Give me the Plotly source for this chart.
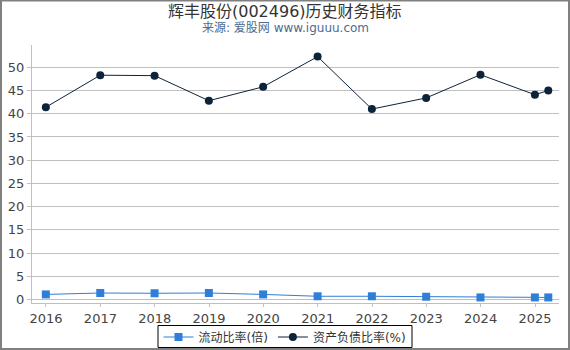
import plotly.graph_objects as go

dates = ["2015-12-31", "2016-12-31", "2017-12-31", "2018-12-31", "2019-12-31",
         "2020-12-31", "2021-12-31", "2022-12-31", "2023-12-31", "2024-12-31", "2025-03-31"]
current_ratio = [1.1, 1.4, 1.35, 1.4, 1.1, 0.7, 0.7, 0.6, 0.45, 0.45, 0.45]
debt_ratio = [41.4, 48.3, 48.2, 42.8, 45.8, 52.3, 41.0, 43.4, 48.4, 44.1, 45.0]
year_ticks = ["2016-01-01", "2017-01-01", "2018-01-01", "2019-01-01", "2020-01-01",
              "2021-01-01", "2022-01-01", "2023-01-01", "2024-01-01", "2025-01-01"]
year_labels = ["2016", "2017", "2018", "2019", "2020", "2021", "2022", "2023", "2024", "2025"]

W, H = 570, 350
L, R, T, B = 32, 11, 45, 47
pw, ph = W - L - R, H - T - B
cx = (W / 2 - L) / pw  # page centre in paper coords

fig = go.Figure()
fig.add_trace(go.Scatter(
    x=dates, y=current_ratio, name="流动比率(倍)", mode="lines+markers",
    line=dict(color="#2f7ed8", width=1),
    marker=dict(symbol="square", size=8, color="#2f7ed8"),
))
fig.add_trace(go.Scatter(
    x=dates, y=debt_ratio, name="资产负债比率(%)", mode="lines+markers",
    line=dict(color="#0d233a", width=1),
    marker=dict(symbol="circle", size=8, color="#0d233a"),
))

font_family = "DejaVu Sans, Noto Sans CJK SC, sans-serif"

fig.update_layout(
    width=W, height=H,
    margin=dict(l=L, r=R, t=T, b=B, autoexpand=False),
    paper_bgcolor="white", plot_bgcolor="white",
    font=dict(family=font_family, size=12, color="#333333"),
    showlegend=True,
    legend=dict(
        orientation="h", x=cx, xanchor="center", y=(303 - 337) / ph, yanchor="middle",
        borderwidth=0, bgcolor="rgba(0,0,0,0)",
        font=dict(size=12, color="#333333"), itemwidth=30,
        tracegroupgap=0,
    ),
    annotations=[
        dict(text="辉丰股份(002496)历史财务指标", x=cx, xref="paper", xanchor="center",
             y=(303 - 11) / ph, yref="paper", yanchor="middle", showarrow=False,
             font=dict(size=16, color="#333333", family=font_family)),
        dict(text="来源: 爱股网 www.iguuu.com", x=cx, xref="paper", xanchor="center",
             y=(303 - 28) / ph, yref="paper", yanchor="middle", showarrow=False,
             font=dict(size=12, color="#4d6b8f", family=font_family)),
    ],
    shapes=[
        dict(type="rect", xref="paper", yref="paper",
             x0=(1 - L) / pw, x1=(569 - L) / pw,
             y0=(303 - 349) / ph, y1=(303 - 0.5) / ph,
             line=dict(color="#808080", width=2), layer="above"),
        dict(type="rect", xref="paper", yref="paper",
             x0=(158 - L) / pw, x1=(412 - L) / pw,
             y0=(303 - 347.5) / ph, y1=(303 - 325.5) / ph,
             line=dict(color="#000000", width=1), layer="below"),
    ],
)

fig.update_xaxes(
    type="date", range=["2015-09-29", "2025-06-11"],
    tickvals=year_ticks, ticktext=year_labels,
    showgrid=False, showline=True, linecolor="#c0c0c0", linewidth=1,
    ticks="outside", ticklen=3, tickcolor="#c0c0c0",
    tickfont=dict(size=13, color="#444444"), zeroline=False,
)
fig.update_yaxes(
    range=[-0.75, 54.8], tickvals=[0, 5, 10, 15, 20, 25, 30, 35, 40, 45, 50],
    showgrid=True, gridcolor="#c0c0c0", gridwidth=1,
    showline=True, linecolor="#c0c0c0", linewidth=1,
    ticks="outside", ticklen=4, tickcolor="#c0c0c0",
    tickfont=dict(size=13, color="#444444"), zeroline=False,
)

fig.write_html("out.html")
